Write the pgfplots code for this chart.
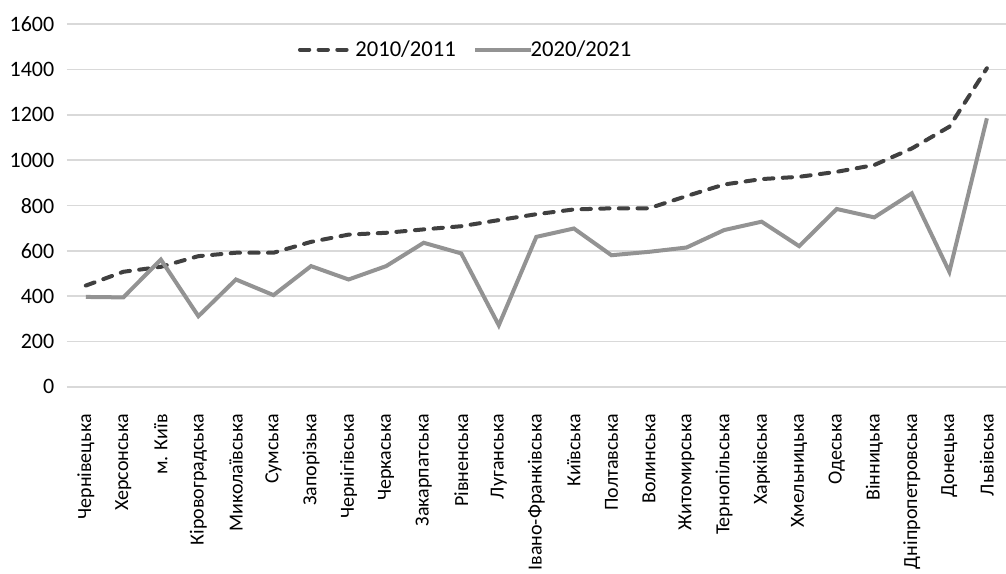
\documentclass[border=0pt]{standalone}
\usepackage{fontspec}
\setmainfont{Carlito}
\usepackage{pgfplots}
\pgfplotsset{compat=1.18}
\definecolor{darkline}{HTML}{404040}
\definecolor{lightline}{HTML}{939393}
\definecolor{gridgray}{HTML}{D9D9D9}

\begin{document}
\begin{tikzpicture}
\useasboundingbox (-50.25pt,-139.7pt) rectangle (704.25pt,290.2pt);
\begin{axis}[
    scale only axis,
    width=704pt, height=272pt,
    xmin=-0.5, xmax=24.5,
    ymin=0, ymax=1600,
    ytick={0,200,...,1600},
    xtick={0,...,24},
    xticklabels={Чернівецька,Херсонська,м. Київ,Кіровоградська,Миколаївська,Сумська,Запорізька,Чернігівська,Черкаська,Закарпатська,Рівненська,Луганська,Івано-Франківська,Київська,Полтавська,Волинська,Житомирська,Тернопільська,Харківська,Хмельницька,Одеська,Вінницька,Дніпропетровська,Донецька,Львівська},
    axis line style={draw=none},
    major tick length=0pt,
    ymajorgrids,
    grid style={gridgray, line width=1.2pt},
    /pgf/number format/assume math mode=true,
    /pgf/number format/1000 sep={},
    tick label style={black},
    yticklabel style={font=\fontsize{16.5}{20}\selectfont, xshift=-6pt},
    xticklabel style={font=\fontsize{15}{18}\selectfont, rotate=90, anchor=east, xshift=-17pt},
    legend style={at={(0.425,0.93)}, anchor=center, draw=none, fill=none,
        font=\fontsize{17}{20}\selectfont, legend columns=2,
        /tikz/every odd column/.append style={column sep=-4pt},
        /tikz/every even column/.append style={column sep=11pt}},
    legend image code/.code={\draw[#1] (0pt,0pt) -- (42pt,0pt);},
]
\addplot[darkline, line width=3pt, line cap=round, dash pattern=on 7pt off 7pt] coordinates {
(0,447) (1,508) (2,530) (3,577) (4,592) (5,592) (6,640) (7,672) (8,680) (9,695)
(10,709) (11,736) (12,762) (13,783) (14,788) (15,788) (16,842) (17,893) (18,917) (19,927)
(20,949) (21,979) (22,1052) (23,1148) (24,1406)
};
\addlegendentry{2010/2011}
\addplot[lightline, line width=3pt] coordinates {
(0,397) (1,395) (2,562) (3,312) (4,474) (5,405) (6,533) (7,474) (8,533) (9,636)
(10,589) (11,272) (12,662) (13,699) (14,581) (15,596) (16,615) (17,692) (18,729) (19,621)
(20,785) (21,748) (22,854) (23,508) (24,1185)
};
\addlegendentry{2020/2021}
\end{axis}
\end{tikzpicture}
\end{document}
